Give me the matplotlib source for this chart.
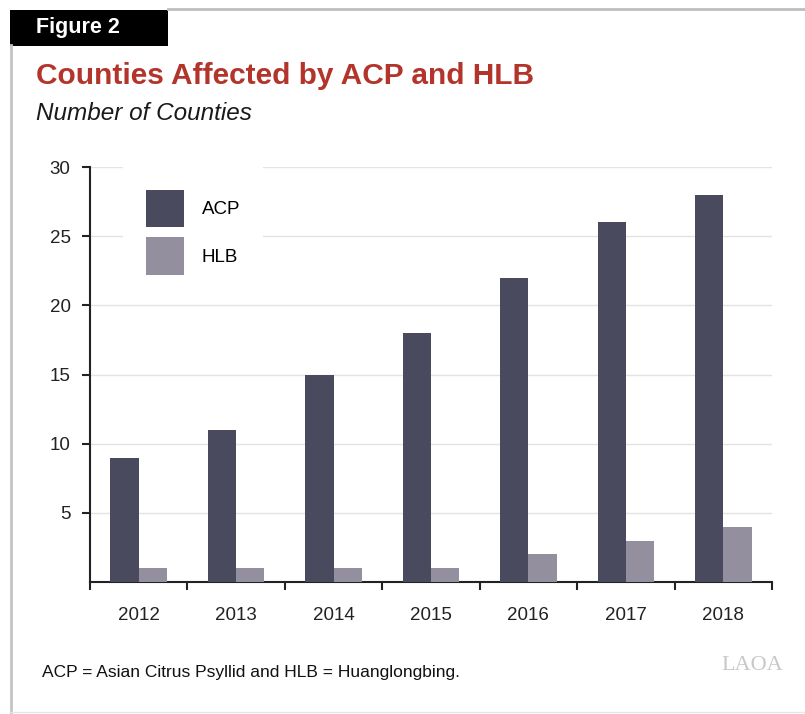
import matplotlib
matplotlib.use("Agg")
import matplotlib.pyplot as plt
from matplotlib.lines import Line2D
from matplotlib.patches import Rectangle
import numpy as np

years = ["2012", "2013", "2014", "2015", "2016", "2017", "2018"]
acp = [9, 11, 15, 18, 22, 26, 28]
hlb = [1, 1, 1, 1, 2, 3, 4]

acp_color = "#4a4a5e"
hlb_color = "#948f9e"
title_color = "#b3342b"

plt.rcParams["font.family"] = ["Liberation Sans", "DejaVu Sans"]

W, H = 805, 714
fig = plt.figure(figsize=(W / 100, H / 100), dpi=100)


def fx(px):
    return px / W


def fy(py):
    return 1 - py / H


# frame lines
fig.add_artist(Line2D([fx(168), fx(805)], [fy(9), fy(9)], color="#bdbdbd", lw=2))
fig.add_artist(Line2D([fx(11), fx(11)], [fy(45), fy(712)], color="#c4c4c4", lw=2))
fig.add_artist(Line2D([fx(11), fx(805)], [fy(712), fy(712)], color="#e6e6e6", lw=1))

# "Figure 2" tab
fig.add_artist(Rectangle((fx(10), fy(46)), fx(168) - fx(10), fy(10) - fy(46),
                         facecolor="black", edgecolor="none"))
fig.text(fx(36), fy(28), "Figure 2", color="white", fontsize=15.5, fontweight="bold",
         va="center", ha="left")

fig.text(fx(36), fy(76), "Counties Affected by ACP and HLB", color=title_color,
         fontsize=21.5, fontweight="bold", va="center", ha="left")
fig.text(fx(36), fy(113), "Number of Counties", color="#1a1a1a", fontsize=17.5,
         style="italic", va="center", ha="left")

ax = fig.add_axes([fx(90), fy(582), fx(772) - fx(90), fy(167) - fy(582)])

x = np.arange(len(years))
w = 0.29
ax.bar(x - w / 2, acp, width=w, color=acp_color, label="ACP", zorder=3)
ax.bar(x + w / 2, hlb, width=w, color=hlb_color, label="HLB", zorder=3)

ax.set_xlim(-0.5, len(years) - 0.5)
ax.set_ylim(0, 30)
ax.set_yticks([5, 10, 15, 20, 25, 30])
ax.yaxis.grid(True, color="#e3e3e3", lw=1, zorder=0)
ax.set_axisbelow(True)

ax.set_xticks(x)
ax.set_xticklabels(years)
ax.set_xticks(np.arange(-0.5, len(years)), minor=True)
ax.tick_params(axis="x", which="major", length=0, pad=18, labelsize=13.5, colors="#222222")
ax.tick_params(axis="x", which="minor", length=6, width=1.5, color="#222222")
ax.tick_params(axis="y", length=6, width=1.5, pad=8, labelsize=13.5, colors="#222222")

for s in ["top", "right"]:
    ax.spines[s].set_visible(False)
for s in ["left", "bottom"]:
    ax.spines[s].set_linewidth(1.5)
    ax.spines[s].set_color("#222222")

leg = ax.legend(loc="upper left", bbox_to_anchor=(33 / 682, 1.0), borderaxespad=0,
                fontsize=13.5, handlelength=2.05, handleheight=2.7,
                handletextpad=0.95, labelspacing=0.55, borderpad=1.2,
                frameon=True, fancybox=False, framealpha=1)
leg.get_frame().set_edgecolor("none")
leg.get_frame().set_facecolor("white")

fig.text(fx(42), fy(673), "ACP = Asian Citrus Psyllid and HLB = Huanglongbing.",
         fontsize=12.5, color="#111111", va="center", ha="left")
fig.text(fx(783), fy(665), "LAOA", fontsize=16, color="#c8c8c8",
         family="Liberation Serif", va="center", ha="right")

fig.savefig("out.png", dpi=100)
